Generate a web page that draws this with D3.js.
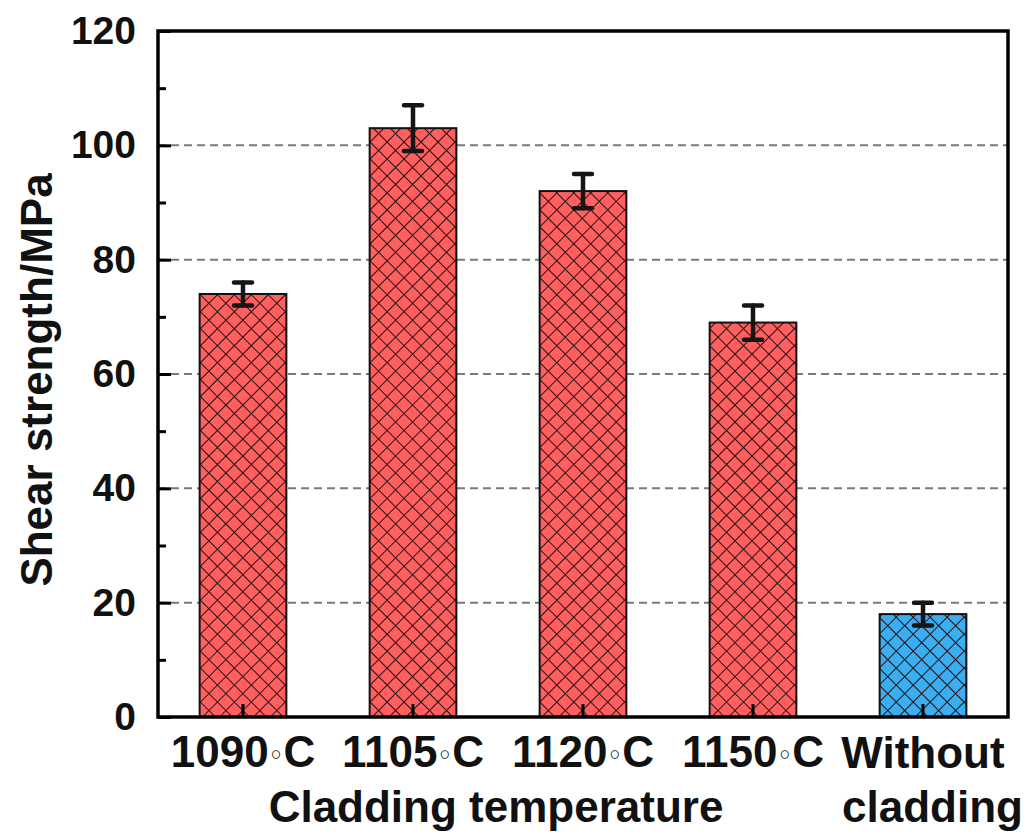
<!DOCTYPE html>
<html>
<head>
<meta charset="utf-8">
<script src="https://cdn.jsdelivr.net/npm/d3@7"></script>
<style>
  body { margin: 0; background: #fff; }
  svg { font-family: "Liberation Sans", Arial, sans-serif; font-weight: bold; }
</style>
</head>
<body>
<div class="bar_chart_container"></div>
<script>
// data
const categories = ['1090◦C', '1105◦C', '1120◦C', '1150◦C', 'Without cladding']
const strength = [74, 103, 92, 69, 18]
const strengthErr = [2, 4, 3, 3, 2]
const barColors = ['#ff5f5f', '#ff5f5f', '#ff5f5f', '#ff5f5f', '#3aaef0']
const yTicks = [0, 20, 40, 60, 80, 100, 120]
const yMinorTicks = [10, 30, 50, 70, 90, 110]
const gridValues = [20, 40, 60, 80, 100]

const barData = categories.map((c, i) => ({cat: c, value: strength[i], err: strengthErr[i], color: barColors[i]}))

const svg_width = 1028
const svg_height = 835
const margin = {top: 31, bottom: 118, left: 158, right: 20}
const chart_width = svg_width - margin.left - margin.right
const chart_height = svg_height - margin.top - margin.bottom

const svg = d3.select('.bar_chart_container').append('svg')
  .attr('width', svg_width).attr('height', svg_height)

// crosshatch patterns
const defs = svg.append('defs')
barColors.forEach((c, i) => {
  const p = defs.append('pattern').attr('id', 'hatch' + i)
    .attr('patternUnits', 'userSpaceOnUse')
    .attr('width', 12).attr('height', 12)
    .attr('patternTransform', 'rotate(45)')
  p.append('rect').attr('width', 12).attr('height', 12).attr('fill', c)
  p.append('path').attr('d', 'M0,0 H12 M0,0 V12')
    .attr('stroke', '#2a1212').attr('stroke-width', 2)
})

const g = svg.append('g').attr('transform', `translate(${margin.left},${margin.top})`)

// scales
const xScale = d3.scaleBand().domain(categories).range([0, chart_width])
  .paddingInner(0.49).paddingOuter(0.245)
const yScale = d3.scaleLinear().domain([0, 120]).range([chart_height, 0])
const cx = d => xScale(d) + xScale.bandwidth() / 2

// grid
g.selectAll('.grid').data(gridValues).enter().append('line')
  .attr('class', 'grid')
  .attr('x1', 0).attr('x2', chart_width)
  .attr('y1', d => yScale(d)).attr('y2', d => yScale(d))
  .attr('stroke', '#7a7a7a').attr('stroke-width', 2)
  .attr('stroke-dasharray', '8,5')

// bars
g.selectAll('.bar').data(barData).enter().append('rect')
  .attr('class', 'bar')
  .attr('x', d => xScale(d.cat))
  .attr('y', d => yScale(d.value))
  .attr('width', xScale.bandwidth())
  .attr('height', d => chart_height - yScale(d.value))
  .attr('fill', (d, i) => `url(#hatch${i})`)
  .attr('stroke', '#111').attr('stroke-width', 2)

// error bars
const eb = g.selectAll('.err').data(barData).enter().append('g').attr('class', 'err')
  .attr('stroke', '#151515').attr('stroke-width', 4.5).attr('stroke-linecap', 'round')
eb.append('line').attr('x1', d => cx(d.cat)).attr('x2', d => cx(d.cat))
  .attr('y1', d => yScale(d.value + d.err)).attr('y2', d => yScale(d.value - d.err))
eb.append('line').attr('x1', d => cx(d.cat) - 9).attr('x2', d => cx(d.cat) + 9)
  .attr('y1', d => yScale(d.value + d.err)).attr('y2', d => yScale(d.value + d.err))
eb.append('line').attr('x1', d => cx(d.cat) - 9).attr('x2', d => cx(d.cat) + 9)
  .attr('y1', d => yScale(d.value - d.err)).attr('y2', d => yScale(d.value - d.err))

// y axis: inward ticks
const yAxis = d3.axisLeft(yScale).tickValues(yTicks).tickSizeInner(-13).tickSizeOuter(0).tickPadding(22)
const yAxisDraw = g.append('g').attr('class', 'y axis').call(yAxis)
yAxisDraw.select('.domain').remove()
yAxisDraw.selectAll('line').attr('stroke', '#000').attr('stroke-width', 3)
yAxisDraw.selectAll('text').attr('font-size', 39).attr('font-weight', 'bold')
  .attr('fill', '#111').attr('font-family', '"Liberation Sans", Arial, sans-serif')
const yMinor = d3.axisLeft(yScale).tickValues(yMinorTicks).tickSize(-8).tickFormat('')
const yMinorDraw = g.append('g').attr('class', 'y minor').call(yMinor)
yMinorDraw.select('.domain').remove()
yMinorDraw.selectAll('line').attr('stroke', '#000').attr('stroke-width', 3)

// x ticks at bar centres, inward
const xAxis = d3.axisBottom(xScale).tickSize(-13).tickSizeOuter(0).tickFormat('')
const xAxisDraw = g.append('g').attr('class', 'x axis')
  .attr('transform', `translate(0,${chart_height})`).call(xAxis)
xAxisDraw.select('.domain').remove()
xAxisDraw.selectAll('line').attr('stroke', '#000').attr('stroke-width', 3)

// frame
g.append('rect').attr('width', chart_width).attr('height', chart_height)
  .attr('fill', 'none').attr('stroke', '#000').attr('stroke-width', 3.5)

// x labels
const labels = g.append('g').attr('class', 'x labels')
  .attr('font-size', 44).attr('fill', '#111')
categories.slice(0, 4).forEach(c => {
  const t = labels.append('text').attr('x', cx(c))
    .attr('y', chart_height + 50).attr('text-anchor', 'middle')
  t.append('tspan').text(c.slice(0, 4))
  t.append('tspan').text('◦').attr('font-size', 23).attr('font-family', '"DejaVu Sans", sans-serif')
    .attr('dy', -4)
  t.append('tspan').text('C').attr('dy', 4)
})
const lastX = cx(categories[4])
labels.append('text').attr('x', lastX).attr('y', chart_height + 51)
  .attr('text-anchor', 'middle').text('Without')
labels.append('text').attr('x', lastX - 81).attr('y', chart_height + 105)
  .attr('text-anchor', 'start').text('cladding')

// axis titles
g.append('text').attr('x', cx(categories[1]) + 83).attr('y', chart_height + 105)
  .attr('text-anchor', 'middle').attr('font-size', 44).attr('fill', '#111')
  .text('Cladding temperature')
g.append('text').attr('transform', `translate(${52 - margin.left},${380 - margin.top}) rotate(-90)`)
  .attr('text-anchor', 'middle').attr('font-size', 44).attr('fill', '#111')
  .text('Shear strength/MPa')
</script>
</body>
</html>
